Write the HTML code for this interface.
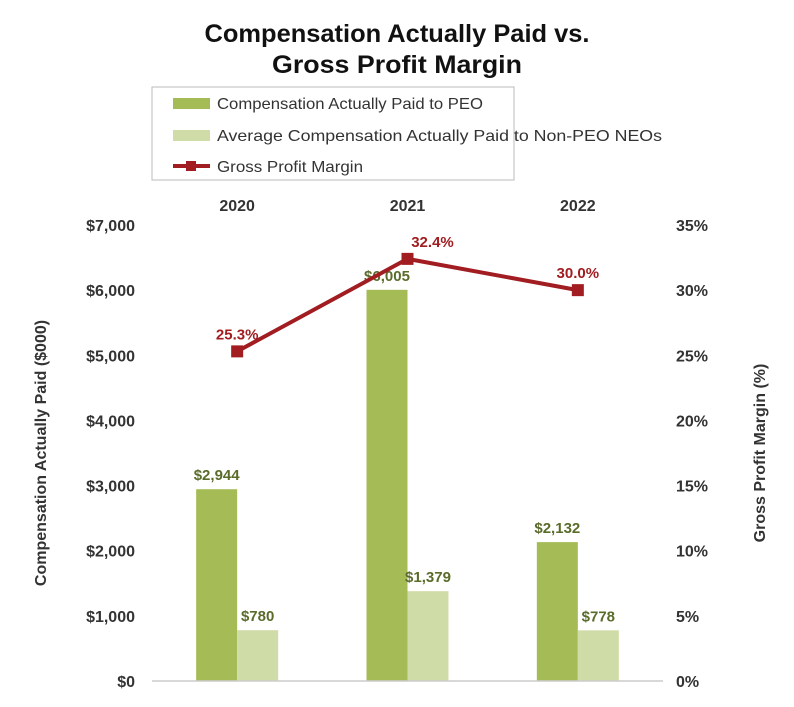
<!DOCTYPE html>
<html><head><meta charset="utf-8"><style>
body{margin:0;background:#fff;font-family:"Liberation Sans",sans-serif;}
svg text{font-family:"Liberation Sans",sans-serif;}
</style></head><body>
<svg id="chart" width="794" height="702" viewBox="0 0 794 702">
<text x="397" y="42" text-anchor="middle" font-size="25" font-weight="bold" fill="#111" textLength="385" lengthAdjust="spacingAndGlyphs">Compensation Actually Paid vs.</text>
<text x="397" y="73" text-anchor="middle" font-size="25" font-weight="bold" fill="#111" textLength="250" lengthAdjust="spacingAndGlyphs">Gross Profit Margin</text>
<g>
<rect x="152" y="87" width="362" height="93" fill="#fff" stroke="#bbb"/>
<rect x="173" y="98" width="37" height="11" fill="#a5bb56"/>
<text x="217" y="109" font-size="16" fill="#333" textLength="266" lengthAdjust="spacingAndGlyphs">Compensation Actually Paid to PEO</text>
<rect x="173" y="130" width="37" height="11" fill="#d0dca8"/>
<text x="217" y="141" font-size="16" fill="#333" textLength="445" lengthAdjust="spacingAndGlyphs">Average Compensation Actually Paid to Non-PEO NEOs</text>
<line x1="173" y1="166" x2="210" y2="166" stroke="#a11d21" stroke-width="4"/>
<rect x="186" y="161" width="10" height="10" fill="#a11d21"/>
<text x="217" y="172" font-size="16" fill="#333" textLength="146" lengthAdjust="spacingAndGlyphs">Gross Profit Margin</text>
</g>
<text transform="translate(46,453) rotate(-90)" text-anchor="middle" font-size="16" font-weight="bold" fill="#333">Compensation Actually Paid ($000)</text>
<text transform="translate(765,453) rotate(-90)" text-anchor="middle" font-size="16" font-weight="bold" fill="#333">Gross Profit Margin (%)</text>
<g id="plot"></g>
</svg>
<script>
const categories=["2020","2021","2022"];
const peoValues=[2944,6005,2132];
const neoValues=[780,1379,778];
const gpmValues=[25.3,32.4,30.0];
const leftTicks=[0,1000,2000,3000,4000,5000,6000,7000];
const leftTickLabels=["$0","$1,000","$2,000","$3,000","$4,000","$5,000","$6,000","$7,000"];
const rightTicks=[0,5,10,15,20,25,30,35];
const rightTickLabels=["0%","5%","10%","15%","20%","25%","30%","35%"];

const NS="http://www.w3.org/2000/svg";
const g=document.getElementById('plot');
const y0=681,yTop=225,x0=152,x1=663;
const yL=v=>y0-(v/7000)*(y0-yTop);
const yR=v=>y0-(v/35)*(y0-yTop);
const step=(x1-x0)/categories.length;
const xC=i=>x0+step*(i+0.5);
const bw=41;
function el(t,a){const e=document.createElementNS(NS,t);for(const k in a)e.setAttribute(k,a[k]);g.appendChild(e);return e;}
const fmt=v=>"$"+v.toLocaleString("en-US");
leftTicks.forEach((v,i)=>{
  const t=el('text',{x:135,y:yL(v)+6,'text-anchor':'end','font-size':16,'font-weight':'bold',fill:'#333'});
  t.textContent=leftTickLabels[i];
  
  
});
rightTicks.forEach((v,i)=>{
  const t=el('text',{x:676,y:yR(v)+6,'font-size':16,'font-weight':'bold',fill:'#333'});
  t.textContent=rightTickLabels[i];
  
  
});
categories.forEach((c,i)=>{
  const t=el('text',{x:xC(i),y:211,'text-anchor':'middle','font-size':16,'font-weight':'bold',fill:'#333'});
  t.textContent=c;
  
  
  const b1=el('rect',{x:xC(i)-bw,y:yL(peoValues[i]),width:bw,height:y0-yL(peoValues[i]),fill:'#a5bb56'});
  
  
  const b2=el('rect',{x:xC(i),y:yL(neoValues[i]),width:bw,height:y0-yL(neoValues[i]),fill:'#d0dca8'});
  
  
  const l1=el('text',{x:xC(i)-bw/2,y:yL(peoValues[i])-9,'text-anchor':'middle','font-size':15,'font-weight':'bold',fill:'#5a6b2a'});
  l1.textContent=fmt(peoValues[i]);
  
  
  const l2=el('text',{x:xC(i)+bw/2,y:yL(neoValues[i])-9,'text-anchor':'middle','font-size':15,'font-weight':'bold',fill:'#5a6b2a'});
  l2.textContent=fmt(neoValues[i]);
  
  
});
const ax=el('line',{x1:x0,y1:y0,x2:x1,y2:y0,stroke:'#ccc','stroke-width':1.5});


const pl=el('polyline',{points:gpmValues.map((v,i)=>xC(i)+','+yR(v)).join(' '),fill:'none',stroke:'#a11d21','stroke-width':4});


gpmValues.forEach((v,i)=>{
  const m=el('rect',{x:xC(i)-6,y:yR(v)-6,width:12,height:12,fill:'#a11d21'});
  
  
  const t=el('text',{x:xC(i)+(i==1?25:0),y:yR(v)-12,'text-anchor':'middle','font-size':15,'font-weight':'bold',fill:'#a11d21'});
  t.textContent=v.toFixed(1)+"%";
  
  
});
</script>
</body></html>
